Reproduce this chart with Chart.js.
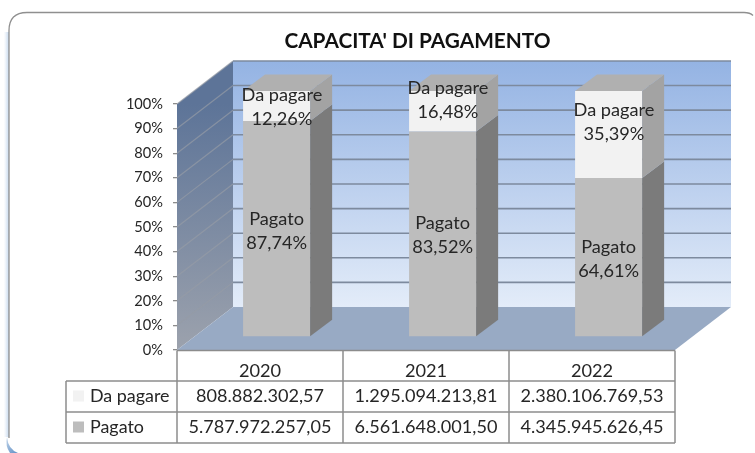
<!DOCTYPE html>
<html><head><meta charset="utf-8">
<style>html,body{margin:0;padding:0;background:#fff}canvas{display:block;filter:blur(0.45px)}</style>
<script src="https://cdn.jsdelivr.net/npm/chart.js@4"></script>
</head><body>
<div style="width:755px;height:453px"><canvas id="c" width="755" height="453"></canvas></div>
<script>
const categories = ['2020','2021','2022'];
const seriesNames = ['Pagato','Da pagare'];
const pagatoPct = [87.74,83.52,64.61];
const daPagarePct = [12.26,16.48,35.39];
const pagatoText = ['5.787.972.257,05','6.561.648.001,50','4.345.945.626,45'];
const daPagareText = ['808.882.302,57','1.295.094.213,81','2.380.106.769,53'];
const titleText = "CAPACITA' DI PAGAMENTO";

const FONT='Lato, Carlito, "Open Sans", sans-serif';
const TXT='#262626';
const WALL={dx:56,dy:-43}, BAR={dx:22,dy:-16.5}, SHIFT={dx:16.6,dy:-13};
const GRID='#7d8a9e', GRIDSIDE='rgba(150,155,165,.7)', TBL='#8c8c8c';
const LABEL_NUDGE=[[{x:0,y:2},{x:0,y:1.5},{x:0,y:2}],[{x:5.4,y:1},{x:5.4,y:-11},{x:5.4,y:-12.5}]];

function poly(ctx,pts,fill){ctx.beginPath();pts.forEach((p,i)=>i?ctx.lineTo(p[0],p[1]):ctx.moveTo(p[0],p[1]));ctx.closePath();ctx.fillStyle=fill;ctx.fill();}

const scene={id:'scene',
 afterLayout(chart){
  const t=chart.titleBlock; if(t){t.left=80;t.right=755;}
 },
 beforeDraw(chart){
  const {ctx}=chart;
  ctx.save();
  const x0=9,y0=12.5,x1=750,y1=452,r=18;
  const g=ctx.createLinearGradient(4,0,9,0);g.addColorStop(0,'rgba(200,218,240,0)');g.addColorStop(1,'#c6d8ec');
  ctx.fillStyle=g;ctx.fillRect(4,32,5,405);
  const g2=ctx.createLinearGradient(8,437,20,452);g2.addColorStop(0,'#c4d6ea');g2.addColorStop(1,'#5f8fc6');
  ctx.beginPath();ctx.moveTo(7,437);ctx.quadraticCurveTo(8,449,18,453);ctx.lineTo(10,453);ctx.quadraticCurveTo(5,446,7,437);ctx.fillStyle=g2;ctx.fill();
  ctx.beginPath();ctx.moveTo(x0,y1-14);ctx.lineTo(x0,y0+r);ctx.quadraticCurveTo(x0,y0,x0+r,y0);ctx.lineTo(x1-6,y0);ctx.quadraticCurveTo(x1,y0,x1+3,y0+3);
  ctx.strokeStyle='#8f8f8f';ctx.lineWidth=1.3;ctx.stroke();
  ctx.restore();
 },
 beforeDatasetsDraw(chart){
  const {ctx,scales:{x,y}}=chart;
  const L=x.left,R=x.right,B=y.getPixelForValue(0),T=y.getPixelForValue(100);
  const d=WALL;
  ctx.save();
  const bg=ctx.createLinearGradient(0,T+d.dy,0,B+d.dy);bg.addColorStop(0,'#94b3e3');bg.addColorStop(1,'#e3ecf9');
  poly(ctx,[[L+d.dx,T+d.dy],[R+d.dx,T+d.dy],[R+d.dx,B+d.dy],[L+d.dx,B+d.dy]],bg);
  const sg=ctx.createLinearGradient(0,T,0,B);sg.addColorStop(0,'#5d7498');sg.addColorStop(1,'#9ca2ad');
  poly(ctx,[[L,T],[L+d.dx,T+d.dy],[L+d.dx,B+d.dy],[L,B]],sg);
  poly(ctx,[[L,B],[L+d.dx,B+d.dy],[R+d.dx,B+d.dy],[R,B]],'#98aac4');
  y.ticks.forEach(t=>{
    if(t.value===0) return;
    const py=y.getPixelForValue(t.value);
    ctx.lineWidth=1.2;ctx.strokeStyle=GRIDSIDE;
    ctx.beginPath();ctx.moveTo(L,py);ctx.lineTo(L+d.dx,py+d.dy);ctx.stroke();
    ctx.lineWidth=1.6;ctx.strokeStyle=GRID;
    ctx.beginPath();ctx.moveTo(L+d.dx,py+d.dy);ctx.lineTo(R+d.dx,py+d.dy);ctx.stroke();
  });
  ctx.restore();
  ctx.save();
  ctx.translate(SHIFT.dx,SHIFT.dy);
 },
 afterDatasetsDraw(chart){
  const {ctx}=chart;
  const sides=[['#7b7b7b','#b0b0b0'],['#a3a3a3','#b0b0b0']];
  chart.data.datasets.forEach((ds,i)=>{
    chart.getDatasetMeta(i).data.forEach(b=>{
      const l=b.x-b.width/2,r=b.x+b.width/2,t=b.y,bt=b.base,e=BAR;
      poly(ctx,[[r,t],[r+e.dx,t+e.dy],[r+e.dx,bt+e.dy],[r,bt]],sides[i][0]);
      if(i===1) poly(ctx,[[l,t],[l+e.dx,t+e.dy],[r+e.dx,t+e.dy],[r,t]],sides[i][1]);
    });
  });
  ctx.fillStyle=TXT;ctx.font='18.2px '+FONT;ctx.textAlign='center';ctx.textBaseline='middle';
  chart.data.datasets.forEach((ds,i)=>{
    chart.getDatasetMeta(i).data.forEach((b,j)=>{
      const n=LABEL_NUDGE[i][j];
      const cy=(b.y+b.base)/2+n.y, cx=b.x+n.x, pct=ds.data[j].toFixed(2).replace('.',',')+'%';
      ctx.fillText(ds.label,cx,cy-12);
      ctx.fillText(pct,cx,cy+12);
    });
  });
  ctx.restore();
 },
 afterDraw(chart){
  const {ctx,scales:{x,y}}=chart;
  const L=x.left,R=x.right,B=y.getPixelForValue(0),w=(R-L)/categories.length;
  const rows=[B+.5,B+31,B+62,B+93], tl=66;
  ctx.save();
  ctx.strokeStyle=TBL;ctx.lineWidth=1.5;
  const line=(a,b,c,d)=>{ctx.beginPath();ctx.moveTo(a,b);ctx.lineTo(c,d);ctx.stroke();};
  line(L,rows[0],R,rows[0]);
  line(tl,rows[1],R,rows[1]);line(tl,rows[2],R,rows[2]);line(tl,rows[3],R,rows[3]);
  line(tl,rows[1],tl,rows[3]);
  for(let i=0;i<=categories.length;i++) line(L+i*w,rows[0],L+i*w,rows[3]);
  ctx.textBaseline='middle';
  const tbl=[[seriesNames[1],daPagareText,'#f2f2f2'],[seriesNames[0],pagatoText,'#bdbdbd']];
  tbl.forEach((row,k)=>{
    const cy=(rows[k+1]+rows[k+2])/2;
    ctx.fillStyle=row[2];ctx.fillRect(73,cy-6,11,11);
    ctx.fillStyle=TXT;ctx.textAlign='left';ctx.font='17.9px '+FONT;ctx.fillText(row[0],90,cy);
    ctx.textAlign='center';ctx.font='18.1px '+FONT;
    row[1].forEach((s,j)=>ctx.fillText(s,L+(j+.5)*w,cy));
  });
  ctx.restore();
 }
};

new Chart(document.getElementById('c'),{
 type:'bar',
 data:{labels:categories,datasets:[
  {label:seriesNames[0],data:pagatoPct,backgroundColor:'#bdbdbd',stack:'s'},
  {label:seriesNames[1],data:daPagarePct,backgroundColor:'#f2f2f2',stack:'s'}]},
 plugins:[scene],
 options:{responsive:false,animation:false,
  layout:{padding:{left:0,right:80,top:0,bottom:0}},
  plugins:{legend:{display:false},tooltip:{enabled:false},
   title:{display:true,text:titleText,font:{family:FONT,size:20.8,weight:'bold'},color:'#111',padding:{top:29,bottom:50}}},
  datasets:{bar:{barPercentage:0.404,categoryPercentage:1}},
  scales:{
   x:{stacked:true,grid:{display:false},border:{display:false},afterFit(s){s.height=103;},
      ticks:{font:{family:FONT,size:18.2},color:TXT,padding:2,maxRotation:0}},
   y:{stacked:true,min:0,max:100,afterFit(s){s.width=177;},
      grid:{drawOnChartArea:false,drawTicks:true,tickLength:4,color:'#8c8c8c',lineWidth:1.3},border:{display:false},
      ticks:{stepSize:10,callback:v=>v+'%',font:{family:FONT,size:14.6},color:TXT,padding:10}}
  }}
});
</script></body></html>
